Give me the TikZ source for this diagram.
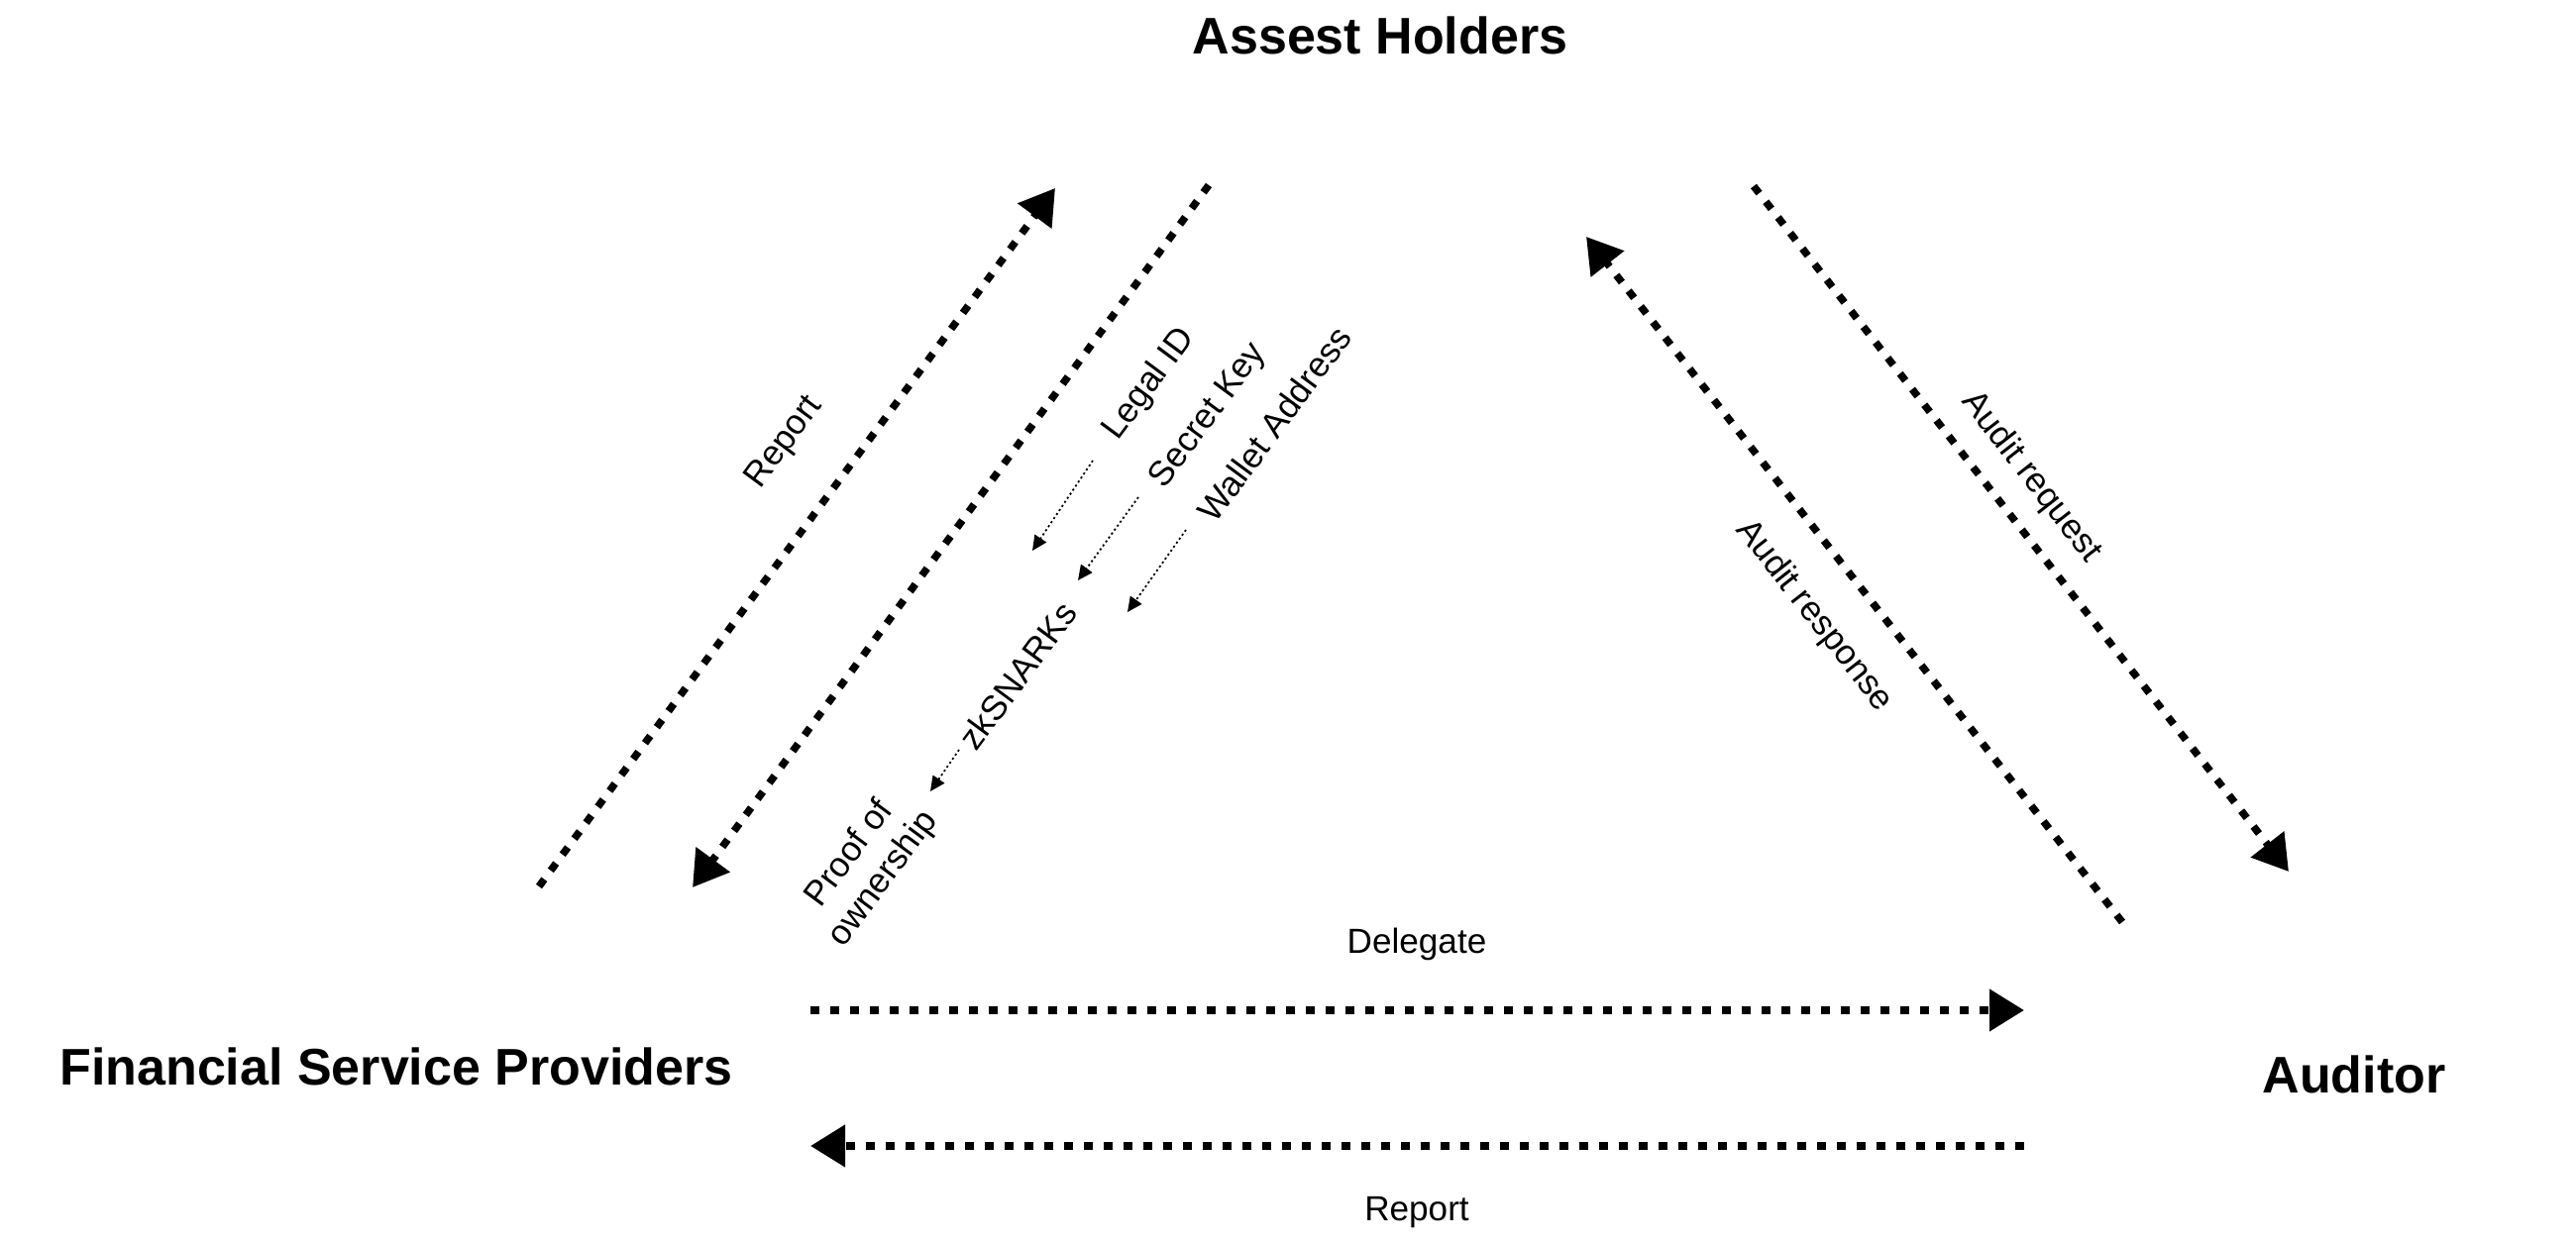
\documentclass[tikz,border=0pt]{standalone}
\usepackage{fontspec}
\setmainfont{Liberation Sans}
\usepackage{tikz}
\usetikzlibrary{arrows.meta}
\tikzset{ party/.style = {font=\fontsize{14.8}{18}\selectfont\bfseries, inner sep=0pt} }
\tikzset{ msg/.style = {font=\fontsize{10}{12}\selectfont, align=center, inner sep=0pt} }
\tikzset{ flow/.style = {line width=0.075cm, dash pattern=on 0.09cm off 0.11cm, -{Triangle[length=0.35cm, width=0.41cm]}} }
\tikzset{ feed/.style = {line width=0.5pt, dash pattern=on 0.6pt off 0.8pt, -{Triangle[length=0.15cm, width=0.14cm]}} }

\begin{document}
\begin{tikzpicture}
                        \useasboundingbox (0, 0) rectangle (26, 12.57);
                        \node[party] (holders) at (13.93, 12.21) {Assest Holders};
                        \node[party] (providers) at (4.00, 1.80) {Financial Service Providers};
                        \node[party] (auditor) at (23.76, 1.72) {Auditor};
                        \coordinate (rep1a) at (5.44, 3.62);
                        \coordinate (rep1b) at (10.65, 10.67);
                        \coordinate (proofa) at (12.20, 10.70);
                        \coordinate (proofb) at (6.99, 3.61);
                        \coordinate (reqa) at (17.70, 10.69);
                        \coordinate (reqb) at (23.10, 3.77);
                        \coordinate (resa) at (21.42, 3.26);
                        \coordinate (resb) at (16.01, 10.18);
                        \coordinate (dela) at (8.18, 2.37);
                        \coordinate (delb) at (20.43, 2.37);
                        \coordinate (rep2a) at (20.43, 1.00);
                        \coordinate (rep2b) at (8.18, 1.00);
                        \coordinate (ida) at (11.03, 7.92);
                        \coordinate (idb) at (10.42, 7.01);
                        \coordinate (keya) at (11.49, 7.55);
                        \coordinate (keyb) at (10.88, 6.71);
                        \coordinate (walla) at (11.97, 7.22);
                        \coordinate (wallb) at (11.38, 6.39);
                        \coordinate (zka) at (9.68, 5.00);
                        \coordinate (zkb) at (9.39, 4.58);
                        \node[msg, rotate=53.5] (rep1) at (7.92, 8.10) {Report};
                        \node[msg, rotate=53.5] (legal) at (11.60, 8.69) {Legal ID};
                        \node[msg, rotate=53.5] (secret) at (12.20, 8.37) {Secret Key};
                        \node[msg, rotate=53.5] (wallet) at (12.86, 8.29) {Wallet Address};
                        \node[msg, rotate=53.5] (zk) at (10.27, 5.75) {zkSNARKs};
                        \node[msg, rotate=53.5] (proof) at (8.75, 3.82) {Proof of\\ownership};
                        \node[msg, rotate=-52] (req) at (20.50, 7.75) {Audit request};
                        \node[msg, rotate=-52] (res) at (18.31, 6.35) {Audit response};
                        \node[msg] (del) at (14.30, 3.04) {Delegate};
                        \node[msg] (rep2) at (14.30, 0.33) {Report};
                        \draw[flow] (rep1a) to (rep1b);
                        \draw[flow] (proofa) to (proofb);
                        \draw[flow] (reqa) to (reqb);
                        \draw[flow] (resa) to (resb);
                        \draw[flow] (dela) to (delb);
                        \draw[flow] (rep2a) to (rep2b);
                        \draw[feed] (ida) to (idb);
                        \draw[feed] (keya) to (keyb);
                        \draw[feed] (walla) to (wallb);
                        \draw[feed] (zka) to (zkb);
                \end{tikzpicture}
\end{document}
